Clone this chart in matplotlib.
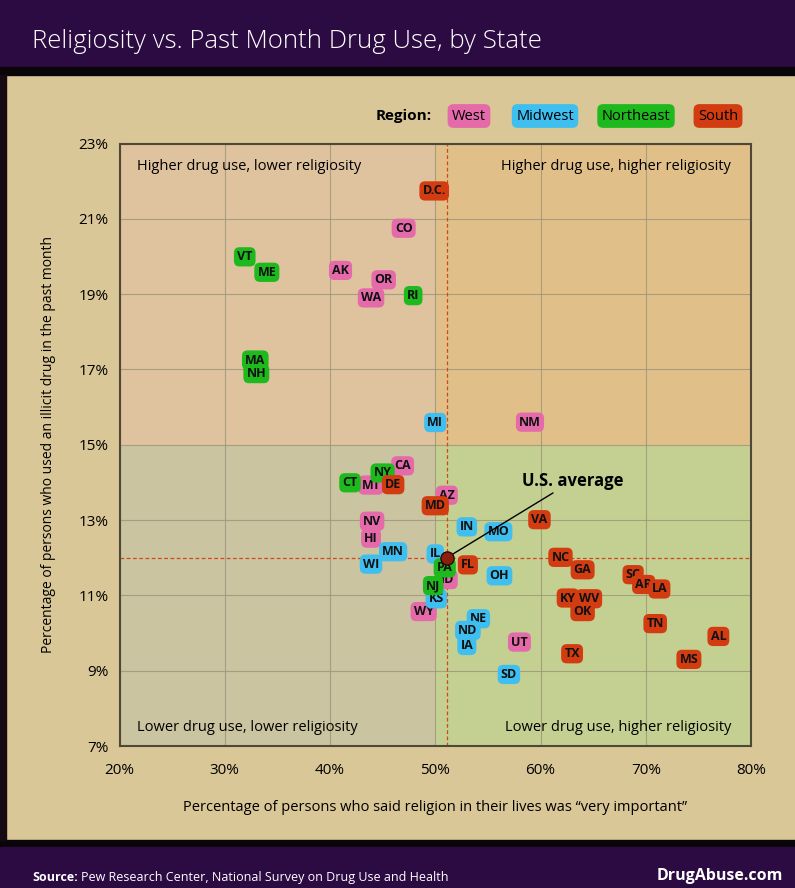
import matplotlib
matplotlib.use('Agg')
import matplotlib.pyplot as plt
from matplotlib.patches import Rectangle

# state codes, % saying religion "very important", % past-month illicit drug use
states = ['CO', 'AK', 'OR', 'WA', 'CA', 'MT', 'AZ', 'NV', 'HI', 'ID', 'WY', 'UT', 'NM',
          'MI', 'IN', 'MO', 'MN', 'WI', 'IL', 'OH', 'KS', 'NE', 'ND', 'IA', 'SD',
          'VT', 'ME', 'RI', 'MA', 'NH', 'CT', 'NY', 'NJ',
          'D.C.', 'DE', 'MD', 'VA', 'NC', 'GA', 'SC', 'AR', 'LA', 'KY', 'WV', 'OK',
          'TN', 'AL', 'TX', 'MS', 'PA', 'FL']
religion = [47.0, 41.0, 45.1, 43.9, 46.9, 43.9, 51.1, 44.0, 43.9, 51.2, 48.9, 58.0, 59.0,
            50.0, 53.0, 56.0, 46.0, 43.9, 50.0, 56.1, 50.1, 54.1, 53.1, 53.0, 57.0,
            31.9, 34.0, 47.9, 32.9, 33.0, 41.9, 45.0, 49.8,
            49.9, 46.0, 50.0, 59.9, 61.9, 64.0, 68.8, 69.8, 71.3, 62.6, 64.6, 64.0,
            70.9, 76.9, 63.0, 74.1, 50.9, 53.1]
drug_use = [20.75, 19.63, 19.38, 18.90, 14.44, 13.93, 13.66, 12.97, 12.52, 11.42, 10.57, 9.76, 15.60,
            15.59, 12.82, 12.69, 12.16, 11.83, 12.10, 11.52, 10.91, 10.38, 10.07, 9.67, 8.90,
            19.99, 19.58, 18.96, 17.25, 16.89, 13.99, 14.25, 11.26,
            21.74, 13.94, 13.38, 13.01, 12.01, 11.68, 11.55, 11.29, 11.17, 10.93, 10.91, 10.57,
            10.25, 9.91, 9.45, 9.30, 11.73, 11.81]
region = ['West'] * 13 + ['Midwest'] * 12 + ['Northeast'] * 8 + ['South'] * 16 + ['Northeast', 'South']

us_avg = (51.1, 12.0)
regions = ['West', 'Midwest', 'Northeast', 'South']
colors = {'West': '#e46aa9', 'Midwest': '#3fbef0', 'Northeast': '#1db91d', 'South': '#d23c10'}

x_ticks = [20, 30, 40, 50, 60, 70, 80]
y_ticks = [7, 9, 11, 13, 15, 17, 19, 21, 23]

W, H = 795, 888
purple = '#2c0a42'
paper = '#dac797'
font = 'Open Sans'

fig = plt.figure(figsize=(W / 100, H / 100), dpi=100)
fig.patch.set_facecolor(paper)

def frect(x0, y0, x1, y1, color, z=0):
    # rectangle in pixel coords (y from the top)
    fig.patches.append(Rectangle((x0 / W, 1 - y1 / H), (x1 - x0) / W, (y1 - y0) / H,
                                 transform=fig.transFigure, color=color, zorder=z))

frect(0, 0, W, 67, purple)
frect(0, 67, W, 75, '#0a0508')
frect(0, 840, W, 847, '#0a0508')
frect(0, 847, W, H, purple)
frect(0, 75, 6, 840, '#150a12')

fig.text(32 / W, 1 - 42 / H, 'Religiosity vs. Past Month Drug Use, by State',
         color='white', fontsize=18.5, family=font, fontweight='light', va='center')
fig.text(32 / W, 1 - 877 / H, 'Source:', color='white', fontsize=9, family=font,
         fontweight='bold', va='center')
fig.text(81 / W, 1 - 877 / H, 'Pew Research Center, National Survey on Drug Use and Health',
         color='white', fontsize=9, family=font, va='center')
fig.text(783 / W, 1 - 876 / H, 'DrugAbuse.com', color='white', fontsize=11.5, family=font,
         fontweight='bold', va='center', ha='right')

# legend
fig.text(432 / W, 1 - 116 / H, 'Region:', color='black', fontsize=11, family=font,
         fontweight='bold', va='center', ha='right')
leg_x = [469, 545, 636, 718]
for name, lx in zip(regions, leg_x):
    fig.text(lx / W, 1 - 116 / H, name, color='black', fontsize=10.5, family=font,
             va='center', ha='center',
             bbox=dict(boxstyle='round,pad=0.3,rounding_size=0.4', fc=colors[name], ec='none'))

ax = fig.add_axes([119.5 / W, 1 - 746 / H, (751 - 119.5) / W, (746 - 143.5) / H])
ax.set_xlim(20, 80)
ax.set_ylim(7, 23)
ax.set_facecolor('none')

# quadrant shading
ax.add_patch(Rectangle((20, 15), 30, 8, color='#e4bfa8', alpha=0.45, lw=0, zorder=0))
ax.add_patch(Rectangle((50, 15), 30, 8, color='#e8b67a', alpha=0.45, lw=0, zorder=0))
ax.add_patch(Rectangle((20, 7), 30, 8, color='#c2c2a8', alpha=0.6, lw=0, zorder=0))
ax.add_patch(Rectangle((50, 7), 30, 8, color='#bcd490', alpha=0.7, lw=0, zorder=0))

ax.set_xticks(x_ticks)
ax.set_yticks(y_ticks)
ax.set_xticklabels([f'{t}%' for t in x_ticks])
ax.set_yticklabels([f'{t}%' for t in y_ticks])
ax.grid(True, color='#9c9478', lw=0.8, alpha=0.8)
ax.set_axisbelow(True)
ax.tick_params(length=0, labelsize=11)
for lab in ax.get_xticklabels() + ax.get_yticklabels():
    lab.set_family(font)
ax.tick_params(axis='x', pad=12)
ax.tick_params(axis='y', pad=8)
for s in ax.spines.values():
    s.set_color('#4f4738')
    s.set_linewidth(1.5)

ax.set_xlabel('Percentage of persons who said religion in their lives was \u201cvery important\u201d',
              family=font, fontsize=10.5, labelpad=16)
ax.set_ylabel('Percentage of persons who used an illicit drug in the past month',
              family=font, fontsize=10, labelpad=16)

ax.axvline(us_avg[0], color='#d2461c', lw=0.9, ls=(0, (3, 2)), zorder=1)
ax.axhline(us_avg[1], color='#d2461c', lw=0.9, ls=(0, (3, 2)), zorder=1)

qfs = 10.5
ax.text(21.65, 22.4, 'Higher drug use, lower religiosity', family=font, fontsize=qfs, va='center')
ax.text(78.1, 22.4, 'Higher drug use, higher religiosity', family=font, fontsize=qfs,
        va='center', ha='right')
ax.text(21.65, 7.5, 'Lower drug use, lower religiosity', family=font, fontsize=qfs, va='center')
ax.text(78.1, 7.5, 'Lower drug use, higher religiosity', family=font, fontsize=qfs,
        va='center', ha='right')

for i, (st, xv, yv, rg) in enumerate(zip(states, religion, drug_use, region)):
    ax.text(xv, yv, st, ha='center', va='center', fontsize=9, fontweight='bold',
            family=font, color='#111111', zorder=3 + i * 0.01,
            bbox=dict(boxstyle='round,pad=0.25,rounding_size=0.45', fc=colors[rg], ec='none'))

ax.annotate('U.S. average', xy=us_avg, xytext=(58.2, 13.9), family=font, fontsize=12,
            fontweight='bold', va='baseline', ha='left',
            arrowprops=dict(arrowstyle='-', color='black', lw=1, shrinkA=0, shrinkB=0),
            zorder=5)
ax.scatter([us_avg[0]], [us_avg[1]], s=90, color='#8e1e0c', edgecolors='#2a0a05',
           linewidths=1, zorder=6)

fig.savefig('out.png', dpi=100, facecolor=fig.get_facecolor())
